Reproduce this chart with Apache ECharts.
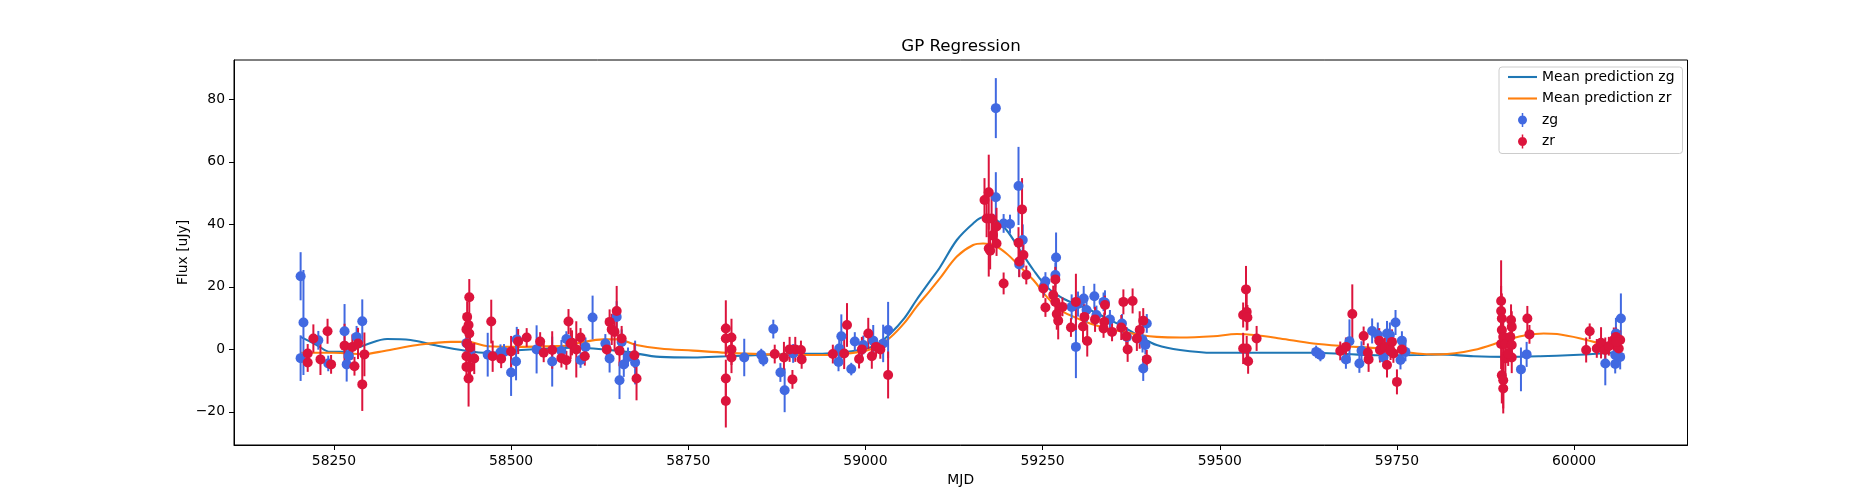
<!DOCTYPE html>
<html>
<head>
<meta charset="utf-8">
<title>GP Regression</title>
<script src="https://cdn.jsdelivr.net/npm/echarts@6.0.0/dist/echarts.min.js"></script>
<style>
  html, body { margin: 0; padding: 0; background: #fff; }
  #gp { width: 1875px; height: 500px; }
</style>
</head>
<body>
<div id="gp"></div>
<script>
// observed points, zg band
var zgMjd = [58203, 58207, 58203, 58228, 58242, 58265, 58268, 58271, 58282, 58290,
    58437, 58442, 58467, 58485, 58490, 58500, 58507, 58508, 58536, 58558,
    58571, 58578, 58598, 58605, 58615, 58633, 58639, 58649, 58656, 58653,
    58659, 58665, 58675, 58829, 58853, 58856, 58870, 58880, 58886, 58898,
    58962, 58963, 58966, 58985, 58980, 58997, 59011, 59025, 59032, 59184,
    59184, 59195, 59204, 59216, 59222, 59217, 59269, 59268, 59254, 59252,
    59291, 59308, 59323, 59336, 59345, 59362, 59369, 59391, 59395, 59392,
    59397, 59297, 59312, 59326, 59338, 59300, 59636, 59642, 59683, 59678,
    59697, 59700, 59715, 59723, 59736, 59740, 59748, 59757, 59731, 59755,
    59762, 59925, 59933, 60044, 60058, 60065, 60059, 60066, 60058];
var zgFlux = [23.4, 8.6, -2.8, 2.9, -4.5, 5.8, -4.8, -2.1, 4.0, 9.0,
    2.0, -1.0, -1.7, -0.9, -0.8, -7.4, -3.9, 3.2, 0.0, -3.9,
    -0.5, 3.3, -3.4, 0.8, 10.2, 1.9, -2.9, 10.4, 2.4, -9.9,
    -4.8, -2.4, -4.2, -2.6, -1.8, -3.4, 6.5, -7.4, -13.1, -1.3,
    -4.0, 0.3, 4.2, 2.5, -6.3, 1.4, 2.8, 1.9, 6.2, 77.2,
    48.7, 40.3, 40.1, 52.3, 35.0, 27.2, 29.4, 23.8, 21.7, 20.3,
    13.6, 16.3, 17.0, 15.2, 9.6, 8.3, 4.0, 3.0, 1.4, -6.1,
    8.3, 0.8, 12.6, 11.0, 14.9, 14.5, -0.8, -1.8, 2.6, -3.2,
    -4.5, -0.4, 5.9, 4.6, 5.1, 4.6, 8.6, 2.8, -2.6, -3.4,
    -0.8, -6.4, -1.6, -4.5, -4.7, -2.4, 5.1, 9.9, -1.8];
var zgErr = [7.7, 16.8, 7.3, 3, 2.5, 8.7, 5.5, 3, 3.5, 7,
    4, 4, 7, 2.5, 2.5, 7.5, 6, 4, 7.7, 8,
    3.5, 2.5, 2.5, 3, 7, 3, 4.5, 5, 4, 6,
    4, 3, 7, 6, 2, 2, 3, 3, 7, 3,
    3, 5, 7, 3, 2, 3, 5, 6, 9, 9.6,
    8, 3, 3, 12.5, 5, 4, 8, 4, 3, 3,
    4, 4, 4, 3, 3, 3, 3, 4, 3, 4,
    3, 10, 4, 3, 4, 4, 2, 2, 7, 3,
    3, 3, 4, 4, 4, 4, 4, 3, 3, 3,
    3, 7, 4, 7, 3, 4, 5, 8, 3];

// observed points, zr band
var zrMjd = [58213, 58213, 58221, 58231, 58241, 58246, 58265, 58276, 58279, 58284,
    58290, 58293, 58441, 58438, 58440, 58437, 58441, 58438, 58442, 58437,
    58448, 58437, 58442, 58440, 58472, 58474, 58486, 58500, 58510, 58522,
    58541, 58546, 58558, 58571, 58578, 58581, 58584, 58586, 58592, 58598,
    58604, 58635, 58639, 58642, 58649, 58646, 58653, 58656, 58674, 58677,
    58803, 58803, 58811, 58811, 58811, 58803, 58803, 58872, 58885, 58893,
    58901, 58909, 58910, 58897, 58954, 58970, 58974, 58991, 58995, 59004,
    59009, 59015, 59021, 59032, 59168, 59174, 59171, 59178, 59185, 59180,
    59185, 59174, 59176, 59195, 59221, 59216, 59223, 59217, 59227, 59251,
    59268, 59254, 59265, 59268, 59278, 59270, 59272, 59297, 59290, 59309,
    59307, 59313, 59324, 59337, 59338, 59336, 59348, 59361, 59364, 59377,
    59368, 59370, 59383, 59387, 59392, 59397, 59533, 59537, 59538, 59539,
    59533, 59538, 59540, 59552, 59670, 59678, 59687, 59703, 59710, 59709,
    59725, 59726, 59733, 59743, 59736, 59750, 59745, 59757, 59741, 59897,
    59897, 59898, 59898, 59900, 59897, 59903, 59903, 59898, 59900, 59900,
    59911, 59912, 59910, 59912, 59912, 59907, 59934, 59937, 60017, 60022,
    60032, 60038, 60044, 60049, 60056, 60059, 60063, 60065, 60060];
var zrFlux = [-1.3, -4.2, 3.5, -3.2, 5.8, -4.8, 1.2, 0.8, -5.4, 1.9,
    -11.2, -1.6, 16.7, 10.4, 7.8, 6.4, 5.1, 1.9, 0.6, -2.2,
    -2.9, -5.6, -5.6, -9.3, 8.9, -2.2, -3.0, -0.7, 2.5, 3.8,
    2.5, -1.1, -0.2, -2.8, -3.5, 8.9, 1.9, 2.1, 0.0, 3.8,
    -2.2, 0.0, 8.8, 6.4, 12.3, 5.6, -0.4, 3.5, -1.9, -9.3,
    6.7, 3.5, 3.8, 0.0, -2.6, -9.3, -16.5, -1.5, -2.6, 0.0,
    0.0, -0.2, -3.2, -9.6, -1.5, -1.3, 7.8, -3.1, 0.0, 5.1,
    -2.2, 0.8, 0.0, -8.2, 47.8, 50.3, 41.9, 41.9, 39.3, 36.6,
    33.9, 32.3, 31.6, 21.1, 44.8, 34.1, 30.2, 28.1, 23.8, 19.5,
    22.4, 13.4, 17.4, 15.2, 13.6, 11.3, 9.2, 15.2, 7.0, 10.4,
    7.3, 2.7, 9.6, 8.8, 14.2, 6.7, 5.6, 7.0, 15.2, 15.5,
    4.2, 0.0, 3.5, 6.2, 9.2, -3.2, 11.0, 19.2, 12.0, 10.2,
    0.3, 0.3, -3.8, 3.5, -0.5, 0.8, 11.3, 4.3, -3.2, -1.1,
    2.8, -0.2, 0.8, 2.4, -5.0, -10.4, -1.3, 0.0, -0.4, 15.5,
    12.3, 9.9, 6.2, 4.0, 1.7, 1.7, -2.9, -8.3, -9.9, -12.5,
    9.4, 7.2, 4.0, 1.4, -2.6, -1.3, 9.9, 4.8, -0.2, 5.8,
    0.3, 2.1, -0.2, 1.0, 3.0, 4.0, 0.3, 3.0, 2.4];
var zrErr = [3, 3, 4.5, 5, 4, 3, 7, 4, 3, 5,
    8.5, 7, 5.8, 5, 4, 5, 4, 4, 5, 4,
    5, 5, 4, 9, 7, 5, 3, 5, 4, 3,
    3, 3, 6, 3, 3, 4, 5, 4, 9, 3,
    3, 3, 4, 5, 8, 6, 5, 4, 4, 7,
    9, 5, 6, 5, 5, 6, 8.5, 3, 5, 4,
    4, 3, 3, 3, 3, 5, 7, 3, 4, 5,
    4, 3, 3, 7.5, 7, 12, 6, 7, 6, 6,
    4, 9, 6, 3.5, 10, 5, 4, 5, 3, 3,
    4, 3, 3, 7, 3, 5, 6, 9, 3, 4,
    5, 5, 4, 3, 3, 3, 3, 4, 4, 4,
    3, 4, 4, 6, 4, 3, 4, 7.5, 6, 4,
    5, 4, 4, 4, 3, 3, 9.5, 3, 4, 3,
    4, 4, 3, 4, 4, 4, 3, 3, 3, 13,
    8, 8, 6, 6, 8, 5, 6, 9, 9, 8,
    5, 5, 5, 5, 5, 4, 4, 3, 4, 2.5,
    3, 5, 4, 3, 4, 3, 4, 3, 3];

// GP mean predictions
var zgPredMjd = [58203, 58225, 58245, 58264, 58295, 58325, 58358, 58391, 58438, 58467,
    58509, 58556, 58590, 58616, 58663, 58710, 58757, 58804, 58851, 58898,
    58945, 58993, 59016, 59035, 59055, 59072, 59090, 59105, 59129, 59152,
    59166, 59181, 59199, 59218, 59237, 59256, 59275, 59294, 59317, 59341,
    59364, 59388, 59411, 59444, 59491, 59538, 59585, 59632, 59679, 59726,
    59780, 59811, 59858, 59905, 59952, 59999, 60037, 60066];
var zgPredFlux = [4.0, 1.5, -0.8, -0.8, 1.5, 3.3, 3.0, 1.4, -0.5, -1.1,
    -0.3, 0.3, 0.5, 0.3, -0.8, -2.4, -2.6, -2.2, -1.8, -1.5,
    -1.3, -0.2, 1.5, 5.0, 10.0, 15.8, 21.5, 26.2, 35.0, 40.3,
    42.3, 41.9, 38.2, 31.8, 25.4, 20.0, 16.8, 14.7, 12.6, 9.9,
    7.2, 4.0, 1.4, -0.2, -1.1, -1.1, -1.1, -1.1, -1.5, -1.9,
    -1.8, -1.6, -2.2, -2.4, -2.2, -1.8, -1.3, -0.8];
var zrPredMjd = [58203, 58250, 58292, 58321, 58368, 58415, 58438, 58467, 58509, 58556,
    58580, 58597, 58630, 58649, 58677, 58710, 58757, 58804, 58851, 58898,
    58945, 58993, 59016, 59035, 59055, 59072, 59090, 59105, 59129, 59152,
    59166, 59181, 59199, 59218, 59237, 59256, 59275, 59294, 59317, 59341,
    59364, 59388, 59411, 59444, 59491, 59524, 59548, 59585, 59632, 59679,
    59726, 59760, 59787, 59811, 59858, 59905, 59933, 59957, 59976, 60009,
    60037, 60066];
var zrPredFlux = [-1.1, -1.1, -1.5, -0.5, 1.4, 2.4, 2.4, 1.0, 0.8, 1.0,
    1.2, 2.1, 3.2, 3.2, 1.4, 0.3, -0.4, -1.1, -1.5, -1.8,
    -1.8, -0.8, 0.8, 3.8, 8.5, 13.6, 18.5, 22.7, 29.7, 33.4,
    33.9, 33.4, 30.7, 26.5, 22.2, 16.8, 12.6, 10.4, 8.3, 6.7,
    5.6, 4.6, 4.0, 3.8, 4.2, 4.9, 4.6, 3.5, 1.9, 1.0,
    0.3, -0.8, -1.5, -1.6, -0.2, 3.0, 4.6, 5.1, 4.9, 3.5,
    1.9, 1.0];

var xTicks = [58250, 58500, 58750, 59000, 59250, 59500, 59750, 60000];
var yTicks = [-20, 0, 20, 40, 60, 80];

var font = 'DejaVu Sans';
// legend handles: a plain line, and a dot with a vertical bar
var lineIcon = 'path://M0,0h29v2.1h-29z';
var errIcon = 'path://M3.75,0h1.5v14h-1.5z M0,7C0,4.515 2.015,2.5 4.5,2.5C6.985,2.5 9,4.515 9,7' +
    'C9,9.485 6.985,11.5 4.5,11.5C2.015,11.5 0,9.485 0,7z';

function zip(xs, ys, es) {
    var out = [];
    for (var i = 0; i < xs.length; i++) {
        out.push(es ? [xs[i], ys[i], es[i]] : [xs[i], ys[i]]);
    }
    return out;
}

function tickText(v) {
    return String(v).replace('-', '\u2212');
}

// vertical error bar from y-err to y+err
function errorBar(color) {
    return function (params, api) {
        var x = api.value(0), y = api.value(1), e = api.value(2);
        var hi = api.coord([x, y + e]);
        var lo = api.coord([x, y - e]);
        return {
            type: 'line',
            shape: {x1: hi[0], y1: hi[1], x2: lo[0], y2: lo[1]},
            style: {stroke: color, lineWidth: 2}
        };
    };
}

var chart = echarts.init(document.getElementById('gp'));
var option = null;
option = {
    backgroundColor: '#fff',
    animation: false,
    title: {
        text: 'GP Regression',
        left: 961,
        top: 38.5,
        padding: 0,
        textAlign: 'center',
        textStyle: {fontFamily: font, fontSize: 16.7, fontWeight: 'normal', color: '#000'}
    },
    legend: {
        orient: 'vertical',
        left: 1499,
        top: 67,
        padding: [3, 8, 5, 9],
        itemWidth: 29,
        itemHeight: 14,
        itemGap: 7.5,
        borderColor: '#cccccc',
        borderWidth: 1,
        borderRadius: 3,
        backgroundColor: 'rgba(255,255,255,0.8)',
        textStyle: {fontFamily: font, fontSize: 13.9, color: '#000', lineHeight: 14},
        data: [
            {name: 'Mean prediction zg', icon: lineIcon},
            {name: 'Mean prediction zr', icon: lineIcon},
            {name: 'zg', icon: errIcon},
            {name: 'zr', icon: errIcon}
        ]
    },
    grid: {
        left: 234, right: 187.5, top: 60, bottom: 55,
        show: true, borderColor: '#000', borderWidth: 1
    },
    xAxis: {
        type: 'value',
        min: 58109,
        max: 60160,
        name: 'MJD',
        nameLocation: 'middle',
        nameGap: 27,
        nameTextStyle: {fontFamily: font, fontSize: 13.9, color: '#000'},
        axisLine: {onZero: false, lineStyle: {color: '#000', width: 1}},
        axisTick: {length: 5, customValues: xTicks, lineStyle: {color: '#000'}},
        axisLabel: {customValues: xTicks, formatter: tickText, margin: 9,
            fontFamily: font, fontSize: 13.9, color: '#000'},
        splitLine: {show: false}
    },
    yAxis: {
        type: 'value',
        min: -30.6,
        max: 92.6,
        name: 'Flux [uJy]',
        nameLocation: 'middle',
        nameGap: 44,
        nameMoveOverlap: false,
        nameTextStyle: {fontFamily: font, fontSize: 13.9, color: '#000'},
        axisLine: {show: true, onZero: false, lineStyle: {color: '#000', width: 1}},
        axisTick: {show: true, length: 5, customValues: yTicks, lineStyle: {color: '#000'}},
        axisLabel: {customValues: yTicks, formatter: tickText, margin: 9,
            fontFamily: font, fontSize: 13.9, color: '#000'},
        splitLine: {show: false}
    },
    series: [
        {
            name: 'Mean prediction zg',
            type: 'line',
            data: zip(zgPredMjd, zgPredFlux),
            symbol: 'none',
            smooth: 0.35,
            color: '#1f77b4',
            lineStyle: {color: '#1f77b4', width: 2.1},
            z: 2
        },
        {
            name: 'Mean prediction zr',
            type: 'line',
            data: zip(zrPredMjd, zrPredFlux),
            symbol: 'none',
            smooth: 0.35,
            color: '#ff7f0e',
            lineStyle: {color: '#ff7f0e', width: 2.1},
            z: 2
        },
        {
            name: 'zg bars',
            type: 'custom',
            renderItem: errorBar('#4169e1'),
            data: zip(zgMjd, zgFlux, zgErr),
            encode: {x: 0, y: 1},
            silent: true,
            z: 3
        },
        {
            name: 'zg',
            type: 'scatter',
            data: zip(zgMjd, zgFlux),
            symbolSize: 10,
            itemStyle: {color: '#4169e1', opacity: 1},
            silent: true,
            z: 3
        },
        {
            name: 'zr bars',
            type: 'custom',
            renderItem: errorBar('#dc143c'),
            data: zip(zrMjd, zrFlux, zrErr),
            encode: {x: 0, y: 1},
            silent: true,
            z: 3
        },
        {
            name: 'zr',
            type: 'scatter',
            data: zip(zrMjd, zrFlux),
            symbolSize: 10,
            itemStyle: {color: '#dc143c', opacity: 1},
            silent: true,
            z: 3
        }
    ]
};
if (option && typeof option === "object") {
    chart.setOption(option, true);
}
</script>
</body>
</html>
